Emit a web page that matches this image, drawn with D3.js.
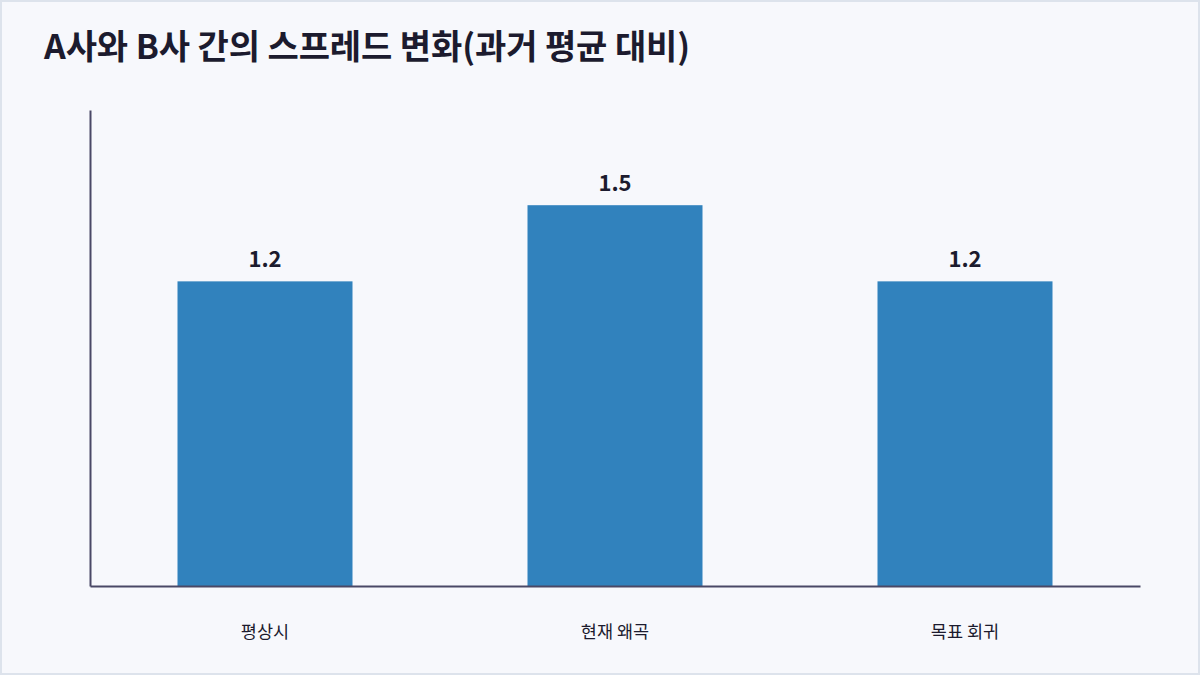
<!DOCTYPE html>
<html>
<head>
<meta charset="utf-8">
<script src="https://cdn.jsdelivr.net/npm/d3@7"></script>
<style>
  html, body { margin: 0; padding: 0; background: #f7f8fc; }
  body { width: 1200px; height: 675px; overflow: hidden; }
  svg text { font-family: "Noto Sans CJK KR", "Noto Sans", sans-serif; }
</style>
</head>
<body>
<div id="chart"></div>
<script>
const categories = ["평상시", "현재 왜곡", "목표 회귀"];
const spreadValues = [1.2, 1.5, 1.2];
const valueLabels = ["1.2", "1.5", "1.2"];
const title = "A사와 B사 간의 스프레드 변화(과거 평균 대비)";

const width = 1200;
const height = 675;
const margin = { top: 110, right: 60, bottom: 89, left: 90 };

const svg = d3
  .select("#chart")
  .append("svg")
  .attr("width", width)
  .attr("height", height);

// background + frame
svg
  .append("rect")
  .attr("x", 1)
  .attr("y", 1)
  .attr("width", width - 2)
  .attr("height", height - 2)
  .attr("fill", "#f7f8fc")
  .attr("stroke", "#dde3ec")
  .attr("stroke-width", 2);

svg
  .append("text")
  .attr("x", 44)
  .attr("y", 59)
  .attr("font-size", 34)
  .attr("font-weight", 700)
  .attr("fill", "#1c1b2e")
  .attr("letter-spacing", -0.1)
  .text(title);

const x = d3
  .scaleBand()
  .domain(categories)
  .range([margin.left, width - margin.right])
  .paddingInner(0.5)
  .paddingOuter(0.25);

const y = d3
  .scaleLinear()
  .domain([0, d3.max(spreadValues) * 1.25])
  .range([height - margin.bottom, margin.top]);

svg
  .append("g")
  .selectAll("rect")
  .data(spreadValues)
  .join("rect")
  .attr("x", (d, i) => x(categories[i]))
  .attr("y", (d) => y(d))
  .attr("width", x.bandwidth())
  .attr("height", (d) => y(0) - y(d))
  .attr("fill", "#3182bd");

svg
  .append("g")
  .selectAll("text")
  .data(spreadValues)
  .join("text")
  .attr("x", (d, i) => x(categories[i]) + x.bandwidth() / 2)
  .attr("y", (d) => y(d) - 14)
  .attr("text-anchor", "middle")
  .attr("font-size", 22)
  .attr("font-weight", 700)
  .attr("fill", "#1c1b2e")
  .text((d, i) => valueLabels[i]);

// x axis
const xAxis = svg
  .append("g")
  .attr("transform", `translate(0,${height - margin.bottom})`)
  .call(d3.axisBottom(x).tickSize(0).tickPadding(40).tickSizeOuter(0));
xAxis.select(".domain").attr("stroke", "#4a4866").attr("stroke-width", 2);
xAxis
  .selectAll("text")
  .attr("font-size", 17.5)
  .attr("fill", "#1c1b2e")
  .attr("font-family", '"Noto Sans CJK KR", sans-serif');

// y axis (line only)
const yAxis = svg
  .append("g")
  .attr("transform", `translate(${margin.left},0)`)
  .call(d3.axisLeft(y).tickValues([]).tickSizeOuter(0));
yAxis.select(".domain").attr("stroke", "#4a4866").attr("stroke-width", 2);
</script>
</body>
</html>
